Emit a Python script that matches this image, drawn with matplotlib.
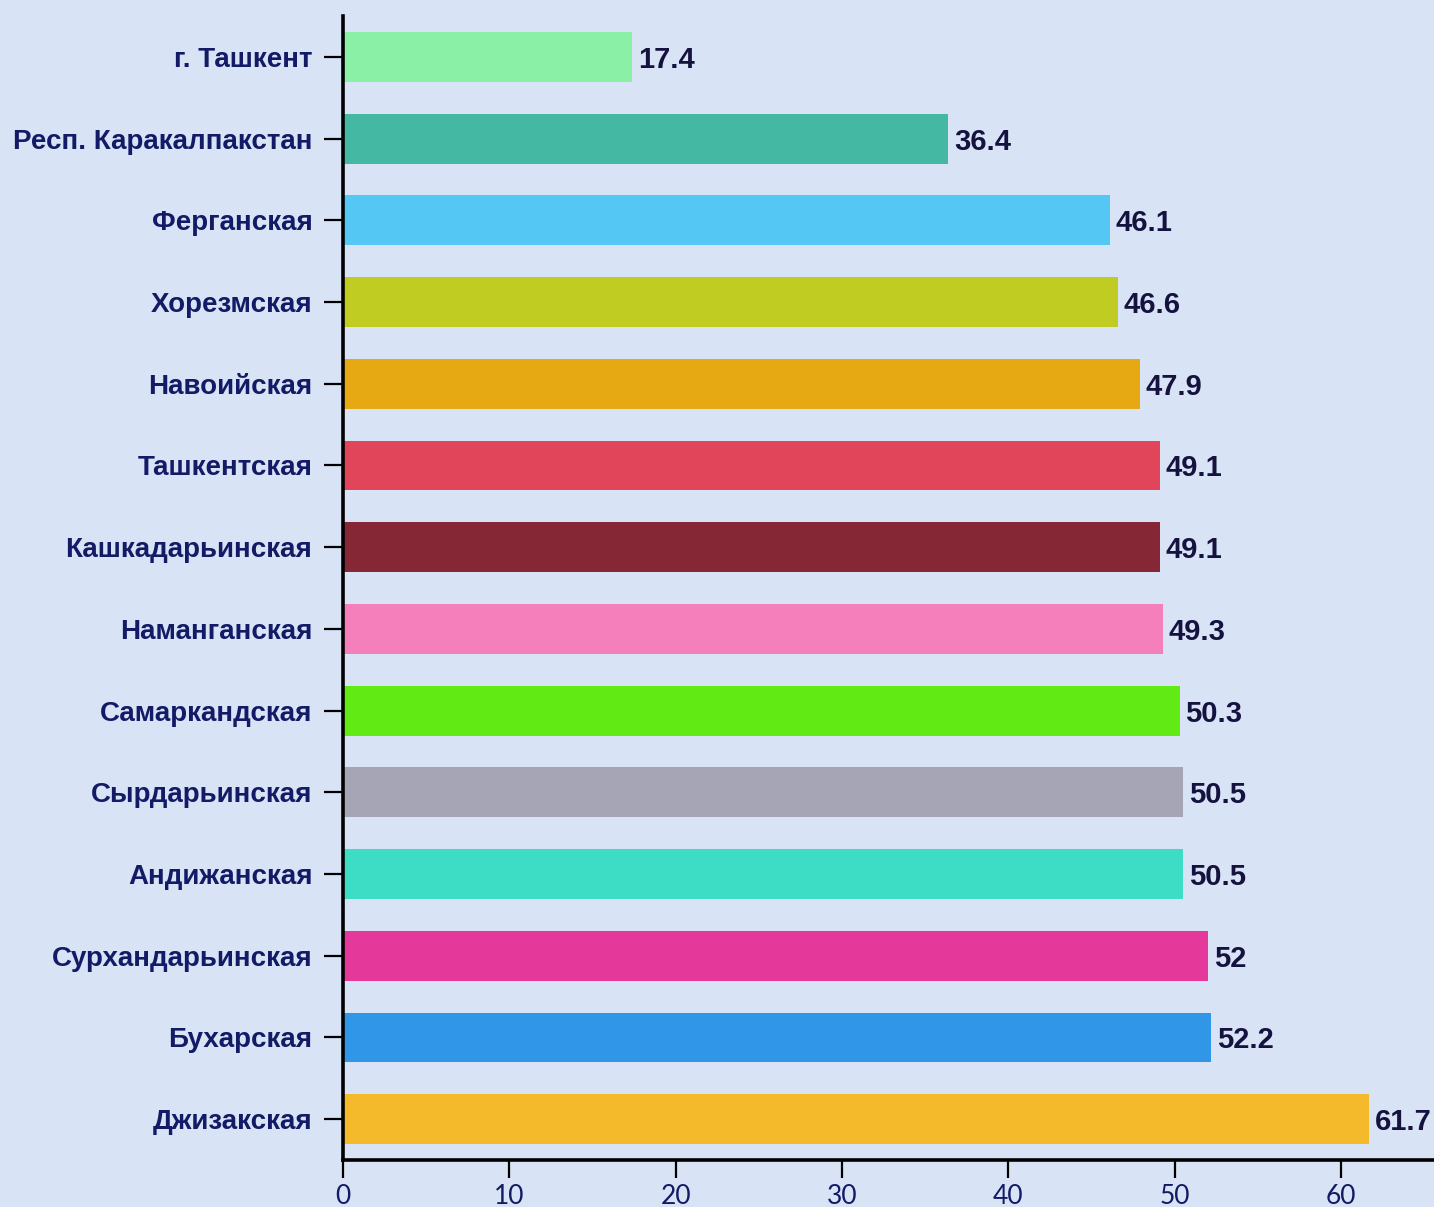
import matplotlib.pyplot as plt

# regions (top to bottom) and their values
regions = ['г. Ташкент', 'Респ. Каракалпакстан', 'Ферганская', 'Хорезмская',
           'Навоийская', 'Ташкентская', 'Кашкадарьинская', 'Наманганская',
           'Самаркандская', 'Сырдарьинская', 'Андижанская', 'Сурхандарьинская',
           'Бухарская', 'Джизакская']
values = [17.4, 36.4, 46.1, 46.6, 47.9, 49.1, 49.1, 49.3, 50.3, 50.5, 50.5, 52, 52.2, 61.7]
colors = ['#8af0a6', '#45b8a4', '#55c7f5', '#c0cc22', '#e6a813', '#e0455a', '#852734',
          '#f47fbb', '#62ea14', '#a5a5b5', '#3ddcc5', '#e4389a', '#3096e8', '#f5b92c']
xticks = [0, 10, 20, 30, 40, 50, 60]

bg = '#d8e3f5'
navy = '#131a66'

fig = plt.figure(figsize=(14.34, 12.07), dpi=100, facecolor=bg)
ax = fig.add_axes([0.2392, 0.0389, 0.7608, 0.9478], facecolor=bg)

pos = list(range(len(regions)))
ax.barh(pos, values, height=0.61, color=colors)
for y, v in zip(pos, values):
    ax.text(v + 0.35, y, f'{v:g}', va='center_baseline', ha='left', fontsize=21,
            fontweight='bold', family='Liberation Sans', color='#15123f')

ax.set_ylim(len(regions) - 0.5, -0.5)
ax.set_xlim(0, 65.6)
ax.set_yticks(pos)
ax.set_yticklabels(regions, fontsize=20, fontweight='bold', family='Liberation Sans', color=navy)
for lab in ax.get_yticklabels():
    lab.set_va('center_baseline')
ax.set_xticks(xticks)
ax.set_xticklabels([str(t) for t in xticks], fontsize=19, family='Lato', color=navy)

for s in ['top', 'right']:
    ax.spines[s].set_visible(False)
for s in ['left', 'bottom']:
    ax.spines[s].set_linewidth(2.6)
    ax.spines[s].set_color('black')
ax.tick_params(axis='y', length=14, width=1.6, pad=8)
ax.tick_params(axis='x', length=13, width=1.6, pad=4)

plt.savefig('out.png', dpi=100, facecolor=bg)
